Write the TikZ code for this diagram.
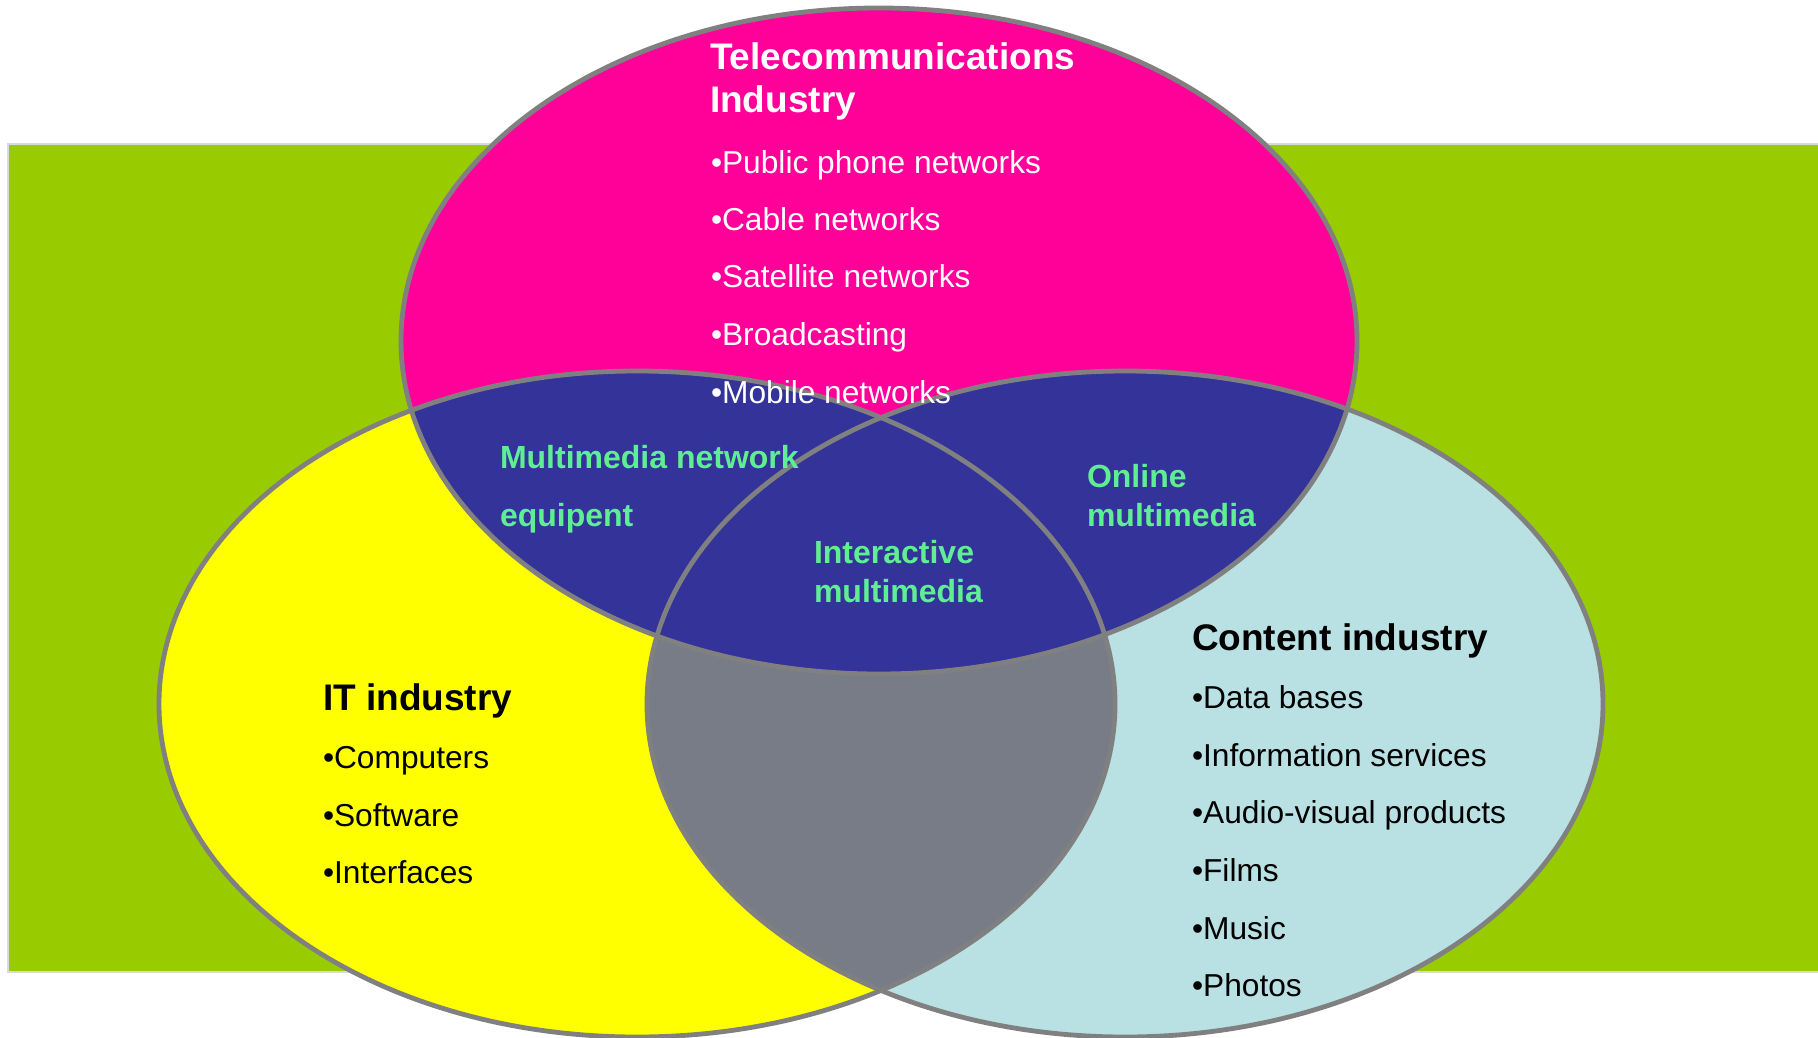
\documentclass[tikz,border=0pt]{standalone}
\usepackage{fontspec}
\setmainfont{Liberation Sans}
\definecolor{bggreen}{RGB}{153,204,0}
\definecolor{rimgray}{RGB}{217,217,217}
\definecolor{telpink}{RGB}{255,0,153}
\definecolor{navy}{RGB}{51,51,153}
\definecolor{ityellow}{RGB}{255,255,0}
\definecolor{contblue}{RGB}{185,224,227}
\definecolor{midgray}{RGB}{120,124,135}
\definecolor{outline}{RGB}{128,128,128}
\definecolor{mint}{RGB}{96,238,148}
\tikzset{
  txt/.style={anchor=base west, inner sep=0pt, outer sep=0pt, font=\fontsize{31.7}{38}\selectfont},
  ttl/.style={anchor=base west, inner sep=0pt, outer sep=0pt, font=\fontsize{37}{44}\selectfont\bfseries},
  lbl/.style={anchor=base west, inner sep=0pt, outer sep=0pt, text=mint, font=\fontsize{32}{38}\selectfont\bfseries},
  rim/.style={draw=outline, line width=4.8pt}
}
\begin{document}
\begin{tikzpicture}[x=1pt,y=-1pt]
\useasboundingbox (0,0) rectangle (1818,1038);
% background band
\fill[bggreen] (8,144) rectangle (1818,972);
\draw[rimgray, line width=2pt] (1818,144) -- (8,144) -- (8,972) -- (1818,972);
% ellipse geometry
\def\elTop{(879,341) ellipse [x radius=478, y radius=333]}
\def\elLeft{(637,704) ellipse [x radius=478, y radius=333]}
\def\elRight{(1125,704) ellipse [x radius=478, y radius=333]}
% base fills
\fill[ityellow] \elLeft;
\fill[contblue] \elRight;
\begin{scope}
  \clip \elLeft;
  \fill[midgray] \elRight;
\end{scope}
\fill[telpink] \elTop;
\begin{scope}
  \clip \elTop;
  \fill[navy] \elLeft;
  \fill[navy] \elRight;
\end{scope}
% outlines
\draw[rim] \elLeft;
\draw[rim] \elRight;
\draw[rim] \elTop;
% Telecommunications
\node[ttl, text=white] (telT1) at (710,70) {Telecommunications};
\node[ttl, text=white] (telT2) at (710,113) {Industry};
\node[txt, text=white] (tel1) at (711,173) {•Public phone networks};
\node[txt, text=white] (tel2) at (711,230) {•Cable networks};
\node[txt, text=white] (tel3) at (711,287) {•Satellite networks};
\node[txt, text=white] (tel4) at (711,345) {•Broadcasting};
\node[txt, text=white] (tel5) at (711,403) {•Mobile networks};
% IT
\node[ttl] (itT) at (323,710) {IT industry};
\node[txt] (it1) at (323,768) {•Computers};
\node[txt] (it2) at (323,826) {•Software};
\node[txt] (it3) at (323,883) {•Interfaces};
% Content
\node[ttl] (coT) at (1192,650) {Content industry};
\node[txt] (co1) at (1192,708) {•Data bases};
\node[txt] (co2) at (1192,766) {•Information services};
\node[txt] (co3) at (1192,823) {•Audio-visual products};
\node[txt] (co4) at (1192,881) {•Films};
\node[txt] (co5) at (1192,939) {•Music};
\node[txt] (co6) at (1192,996) {•Photos};
% overlap labels
\node[lbl] (mn1) at (500,468) {Multimedia network};
\node[lbl] (mn2) at (500,526) {equipent};
\node[lbl] (im1) at (814,563) {Interactive};
\node[lbl] (im2) at (814,602) {multimedia};
\node[lbl] (om1) at (1087,487) {Online};
\node[lbl] (om2) at (1087,526) {multimedia};
\end{tikzpicture}
\end{document}
